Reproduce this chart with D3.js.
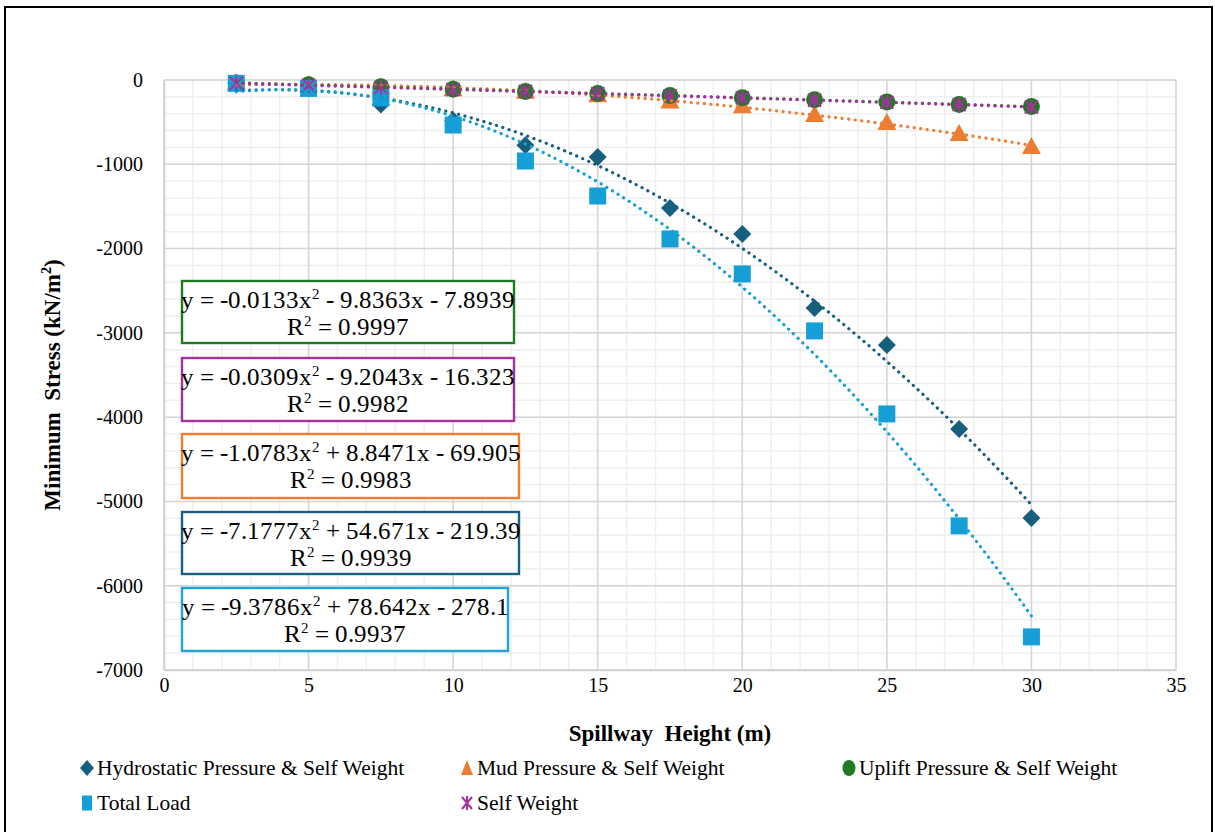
<!DOCTYPE html>
<html><head><meta charset="utf-8">
<script src="https://cdn.jsdelivr.net/npm/d3@7"></script>
<style>
@font-face{font-family:"SerifX";src:local("Liberation Serif"),local("LiberationSerif"),local("LiberationSerif-Regular");}
.lg{font-family:"Liberation Serif";}
.eq{font-family:"SerifX";}
</style>
</head><body style="margin:0">
<svg id="c" width="1215" height="832"></svg>
<script>
const xs = [2.5,5,7.5,10,12.5,15,17.5,20,22.5,25,27.5,30];
const hydro = [-35,-70,-290,-480,-775,-913,-1518,-1827,-2705,-3144,-4140,-5196];
const mud = [-40,-60,-90,-110,-140,-180,-255,-310,-415,-510,-640,-795];
const uplift = [-35,-55,-80,-110,-135,-160,-185,-210,-235,-260,-290,-315];
const total = [-40,-100,-213,-534,-961,-1376,-1886,-2301,-2977,-3962,-5290,-6607];
const selfW = [-38,-62,-88,-112,-135,-162,-188,-212,-240,-265,-292,-320];
const xTicks = [0,5,10,15,20,25,30,35];
const yTicks = [0,-1000,-2000,-3000,-4000,-5000,-6000,-7000];
const seriesNames = ["Hydrostatic Pressure & Self Weight","Mud Pressure & Self Weight","Uplift Pressure & Self Weight","Total Load","Self Weight"];
const coefHydro = [-7.1777,54.671,-219.39];
const coefMud = [-1.0783,8.8471,-69.905];
const coefUplift = [-0.0133,-9.8363,-7.8939];
const coefTotal = [-9.3786,78.642,-278.1];
const coefSelf = [-0.0309,-9.2043,-16.323];
const eqUplift = ["y = -0.0133x² - 9.8363x - 7.8939","R² = 0.9997"];
const eqSelf = ["y = -0.0309x² - 9.2043x - 16.323","R² = 0.9982"];
const eqMud = ["y = -1.0783x² + 8.8471x - 69.905","R² = 0.9983"];
const eqHydro = ["y = -7.1777x² + 54.671x - 219.39","R² = 0.9939"];
const eqTotal = ["y = -9.3786x² + 78.642x - 278.1","R² = 0.9937"];

const C = {hydro:"#185f7e", mud:"#ed7d31", uplift:"#1f7a22", total:"#159fd6", self:"#a4329e"};
const svg = d3.select("#c");
svg.append("rect").attr("x",5).attr("y",7).attr("width",1207).attr("height",840).attr("fill","#fff").attr("stroke","#000").attr("stroke-width",2);

const x = d3.scaleLinear().domain([0,35]).range([164,1176]);
const y = d3.scaleLinear().domain([-7000,0]).range([670,80]);

const g = svg.append("g");
g.append("g").selectAll("line").data(d3.range(0,35.01,1)).join("line")
 .attr("x1",d=>x(d)).attr("x2",d=>x(d)).attr("y1",y(0)).attr("y2",y(-7000))
 .attr("stroke","#efefef").attr("stroke-width",1.5);
g.append("g").selectAll("line").data(d3.range(-7000,0.1,200)).join("line")
 .attr("y1",d=>y(d)).attr("y2",d=>y(d)).attr("x1",x(0)).attr("x2",x(35))
 .attr("stroke","#efefef").attr("stroke-width",1.5);
g.append("g").selectAll("line").data(xTicks).join("line")
 .attr("x1",d=>x(d)).attr("x2",d=>x(d)).attr("y1",y(0)).attr("y2",y(-7000))
 .attr("stroke","#d6d6d6").attr("stroke-width",1.5);
g.append("g").selectAll("line").data(yTicks).join("line")
 .attr("y1",d=>y(d)).attr("y2",d=>y(d)).attr("x1",x(0)).attr("x2",x(35))
 .attr("stroke","#d6d6d6").attr("stroke-width",1.5);

const xa = svg.append("g").attr("transform",`translate(0,${y(-7000)})`)
 .call(d3.axisBottom(x).tickValues(xTicks).tickSize(0).tickPadding(22).tickFormat(d3.format("d")));
const ya = svg.append("g").attr("transform",`translate(${x(0)},0)`)
 .call(d3.axisLeft(y).tickValues(yTicks).tickSize(0).tickPadding(21).tickFormat(d=>String(d)));
[xa,ya].forEach(a=>{a.attr("font-size",null);
 a.select(".domain").attr("stroke","#d0d0d0").attr("stroke-width",1.5);
 a.selectAll("text").style("font-size","20px").attr("fill","#000");});
xa.attr("font-family","serif");
ya.attr("font-family","Times New Roman");
xa.selectAll("text").attr("dy","0");

svg.append("text").style("font-family",'"Tinos"').style("font-size","23px").style("font-weight","bold")
 .attr("x",670).attr("y",741).attr("text-anchor","middle").text("Spillway\u00A0 Height (m)");
svg.append("text").style("font-family",'"Tinos"').style("font-size","23px").style("font-weight","bold")
 .attr("transform","translate(60,385) rotate(-90)").attr("text-anchor","middle")
 .html('Minimum\u00A0 Stress (kN/m<tspan dy="-9" style="font-size:14px">2</tspan><tspan dy="9">)</tspan>');

function marker(sel, type, color){
  if(type==="diamond") sel.append("path").attr("d","M0,-9L9,0L0,9L-9,0Z").attr("fill",color);
  else if(type==="square") sel.append("rect").attr("x",-8.5).attr("y",-8.5).attr("width",17).attr("height",17).attr("fill",color);
  else if(type==="triangle") sel.append("path").attr("d","M0,-10L9.5,7L-9.5,7Z").attr("fill",color);
  else if(type==="circle") sel.append("circle").attr("r",8.5).attr("fill",color);
  else if(type==="star") sel.append("path").attr("d","M0,-7.5V7.5M-6.5,-6.5L6.5,6.5M6.5,-6.5L-6.5,6.5").attr("stroke",color).attr("stroke-width",2).attr("fill","none");
}
const series = [
 {vals:hydro, coef:coefHydro, c:C.hydro, t:"diamond"},
 {vals:mud, coef:coefMud, c:C.mud, t:"triangle"},
 {vals:uplift, coef:coefUplift, c:C.uplift, t:"circle"},
 {vals:total, coef:coefTotal, c:C.total, t:"square"},
 {vals:selfW, coef:coefSelf, c:C.self, t:"star"}
];
const line = d3.line().x(d=>x(d[0])).y(d=>y(d[1]));
series.forEach(s=>{
  const mg = svg.append("g");
  s.vals.forEach((v,i)=>{ const m = mg.append("g").attr("transform",`translate(${x(xs[i])},${y(v)})`); marker(m,s.t,s.c); });
});
series.forEach(s=>{
  const pts = d3.range(2.5,30.001,0.25).map(t=>[t, s.coef[0]*t*t + s.coef[1]*t + s.coef[2]]);
  svg.append("path").datum(pts).attr("d",line).attr("fill","none").attr("stroke",s.c)
   .attr("stroke-width",3.2).attr("stroke-dasharray","0.1 6.5").attr("stroke-linecap","round");
});

const boxes = [
 {eq:eqUplift, c:C.uplift, x0:182, x1:514, y0:281, y1:343},
 {eq:eqSelf, c:C.self, x0:182, x1:514, y0:358, y1:421},
 {eq:eqMud, c:C.mud, x0:182, x1:519, y0:434, y1:498},
 {eq:eqHydro, c:"#1d5f80", x0:182, x1:519, y0:512, y1:574},
 {eq:eqTotal, c:"#1ea3da", x0:182, x1:508, y0:588, y1:651}
];
boxes.forEach(b=>{
  svg.append("rect").attr("x",b.x0).attr("y",b.y0).attr("width",b.x1-b.x0).attr("height",b.y1-b.y0)
   .attr("fill","#fff").attr("stroke",b.c).attr("stroke-width",2.4);
  const cx=(b.x0+b.x1)/2;
  const t1 = b.eq[0].split("x²");
  svg.append("text").attr("class","eq").style("font-size","24.5px").attr("x",cx).attr("y",b.y0+27).attr("text-anchor","middle")
   .html(`${t1[0]}x<tspan dy="-9" style="font-size:15px">2</tspan><tspan dy="9">${t1[1]}</tspan>`);
  const t2 = b.eq[1].split("²");
  svg.append("text").attr("class","eq").style("font-size","24.5px").attr("x",cx).attr("y",b.y0+54).attr("text-anchor","middle")
   .html(`R<tspan dy="-9" style="font-size:15px">2</tspan><tspan dy="9">${t2[1]}</tspan>`);
});

const leg = [
 {n:seriesNames[0], t:"diamond", c:C.hydro, x:87, y:768},
 {n:seriesNames[1], t:"triangle", c:C.mud, x:467, y:768},
 {n:seriesNames[2], t:"circle", c:C.uplift, x:849, y:768},
 {n:seriesNames[3], t:"square", c:C.total, x:87, y:803},
 {n:seriesNames[4], t:"star", c:C.self, x:467, y:803}
];
leg.forEach(l=>{
  const m = svg.append("g").attr("transform",`translate(${l.x},${l.y})`);
  if(l.t==="square") m.append("rect").attr("x",-5).attr("y",-7.5).attr("width",10).attr("height",15).attr("fill",l.c);
  else if(l.t==="triangle") m.append("path").attr("d","M0,-8L6,7L-6,7Z").attr("fill",l.c);
  else if(l.t==="circle") m.append("ellipse").attr("rx",6.5).attr("ry",8).attr("fill",l.c);
  else if(l.t==="star") m.append("path").attr("d","M0,-7V7M-5,-6L5,6M5,-6L-5,6").attr("stroke",l.c).attr("stroke-width",2).attr("fill","none");
  else m.append("path").attr("d","M0,-8L7,0L0,8L-7,0Z").attr("fill",l.c);
  svg.append("text").attr("class","lg").style("font-size","21.5px").attr("x",l.x+10).attr("y",l.y+7).text(l.n);
});
</script>
</body></html>
